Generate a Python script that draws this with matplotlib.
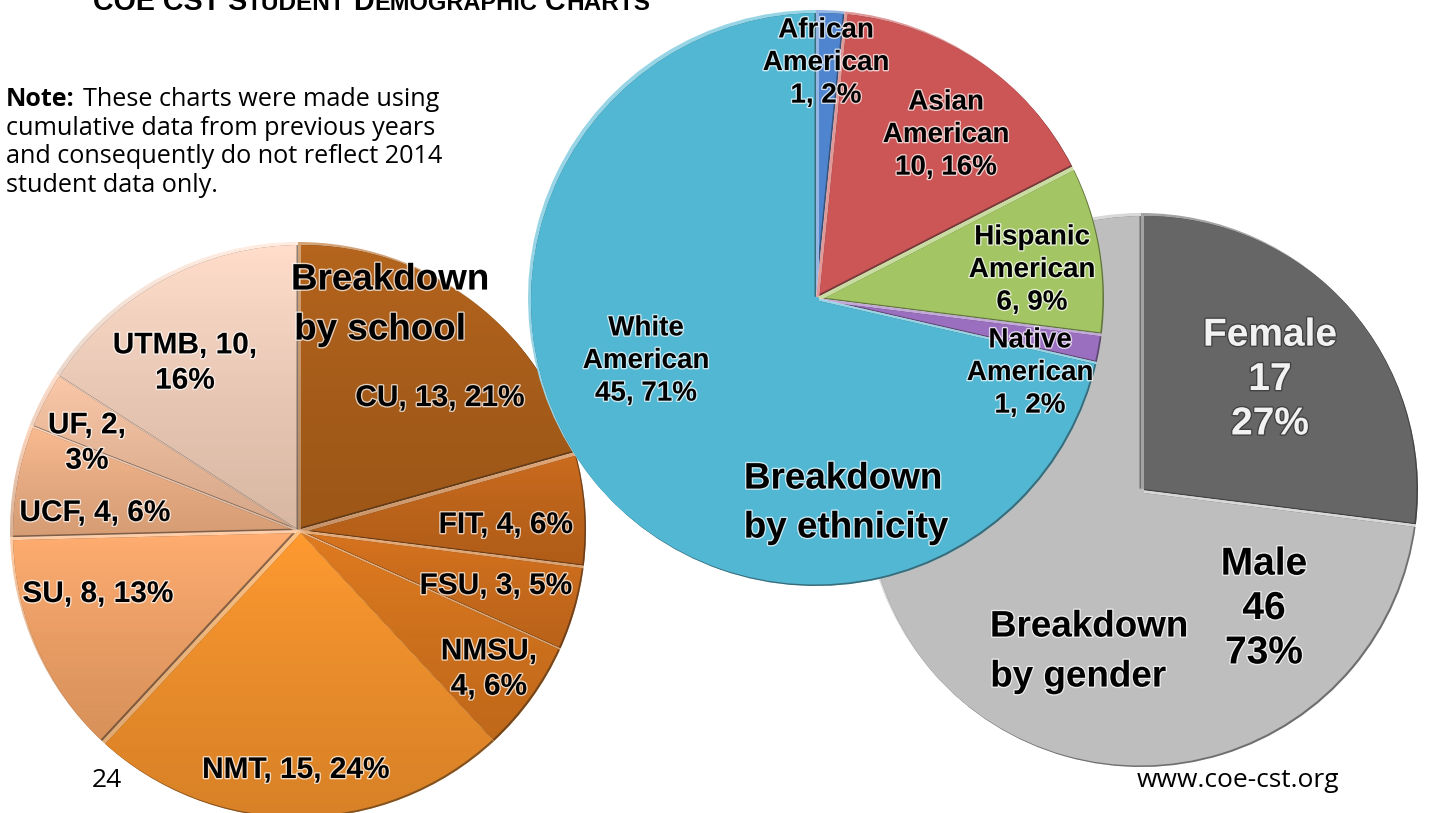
import matplotlib
matplotlib.use("Agg")
import matplotlib.pyplot as plt
import matplotlib.patheffects as pe
import matplotlib.colors as mc
from matplotlib.patches import Wedge
import numpy as np

school_labels = ["CU", "FIT", "FSU", "NMSU", "NMT", "SU", "UCF", "UF", "UTMB"]
school_values = [13, 4, 3, 4, 15, 8, 4, 2, 10]
school_colors = ["#B5651D", "#CC6C1E", "#D8741F", "#E07B20", "#FF9A30", "#FFAD70", "#FBBB90", "#FBC8A8", "#FFDDCA"]
eth_labels = ["African American", "Asian American", "Hispanic American", "Native American", "White American"]
eth_values = [1, 10, 6, 1, 45]
eth_colors = ["#4F84CE", "#CC5555", "#A3C563", "#9A6FBF", "#52B7D3"]
gender_labels = ["Female", "Male"]
gender_values = [17, 46]
gender_colors = ["#666666", "#BEBEBE"]

W, H = 1429, 813
fig = plt.figure(figsize=(W / 100, H / 100), dpi=100)
plt.rcParams['font.family'] = ['Liberation Sans', 'DejaVu Sans']

def pie_axes(cx, cy, r, z):
    ax = fig.add_axes([(cx - r) / W, 1 - (cy + r) / H, 2 * r / W, 2 * r / H])
    ax.set_zorder(z)
    ax.r_px = r
    return ax

def mix(c, other, t):
    a, b = np.array(mc.to_rgb(c)), np.array(mc.to_rgb(other))
    return tuple(a + (b - a) * t)

def draw(ax, values, colors, band=3.0, fade=0.0):
    wedges, _ = ax.pie(values, colors=colors, startangle=90, counterclock=False, radius=1.0)
    ax.set_xlim(-1, 1)
    ax.set_ylim(-1, 1)
    d = band / ax.r_px
    shade = mc.LinearSegmentedColormap.from_list("s", [(0, 0, 0, 0), (0.25, 0.12, 0, fade)])
    for i, (w, col) in enumerate(zip(wedges, colors)):
        z = 2 + i * 0.1
        def copy(dx, dy, **kw):
            c = Wedge((dx, dy), 1.0, w.theta1, w.theta2, edgecolor="none", **kw)
            ax.add_patch(c)
            return c
        w.set_facecolor(mix(col, "white", 0.4))
        w.set_zorder(z)
        dark = copy(d, -d, facecolor=mix(col, "#202020", 0.5), zorder=z + 0.01)
        dark.set_clip_path(w)
        body = copy(-d * 0.5, d * 0.5, facecolor=col, zorder=z + 0.02)
        body.set_clip_path(dark)
        if fade > 0:
            v = w.get_path().transformed(w.get_patch_transform()).vertices
            x0, x1, y0, y1 = v[:, 0].min(), v[:, 0].max(), v[:, 1].min(), v[:, 1].max()
            im = ax.imshow(np.linspace(0, 1, 64)[:, None], cmap=shade, extent=(x0, x1, y0, y1),
                           aspect="auto", zorder=z + 0.03, vmin=0, vmax=1)
            im.set_clip_path(w)
    ax.set_xlim(-1, 1)
    ax.set_ylim(-1, 1)
    ax.set_aspect("equal")
    ax.axis("off")

def label(x, y, s, size=20, color="black", ls=1.33):
    t = fig.text(x / W, 1 - (y + 4) / H, s, fontsize=size, fontweight="bold", ha="center", va="center",
                 color=color, linespacing=ls, zorder=20)
    glow = "white" if color == "black" else "#333333"
    t.set_path_effects([pe.withStroke(linewidth=2, foreground=glow, alpha=0.7)])

draw(pie_axes(1141, 490, 277, 1), gender_values, gender_colors)
draw(pie_axes(298, 530, 288, 2), school_values, school_colors, fade=0.2)
draw(pie_axes(816, 298, 288, 3), eth_values, eth_colors)

label(390, 276, "Breakdown", 26.5)
label(380, 326, "by school", 26.5)
label(440, 394, "CU, 13, 21%", 21.5)
label(506, 521, "FIT, 4, 6%", 21.5)
label(496, 582, "FSU, 3, 5%", 21.5)
label(489, 665, "NMSU,\n4, 6%", 21.5)
label(296, 766, "NMT, 15, 24%", 21.5)
label(98, 590, "SU, 8, 13%", 21.5)
label(95, 509, "UCF, 4, 6%", 21.5)
label(87, 439, "UF, 2,\n3%", 21.5)
label(185, 359, "UTMB, 10,\n16%", 21.5)

label(826, 59, "African\nAmerican\n1, 2%")
label(946, 131, "Asian\nAmerican\n10, 16%")
label(1032, 266, "Hispanic\nAmerican\n6, 9%")
label(1030, 369, "Native\nAmerican\n1, 2%")
label(646, 357, "White\nAmerican\n45, 71%")
label(843, 475, "Breakdown", 26.5)
label(846, 524, "by ethnicity", 26.5)

label(1270, 376, "Female\n17\n27%", 28, color="#F2F2F2", ls=1.3)
label(1264, 605, "Male\n46\n73%", 28, ls=1.3)
label(1089, 623, "Breakdown", 26.5)
label(1078, 673, "by gender", 26.5)

title_parts = [(93, "COE CST S", 20.6), (247, "TUDENT", 17.6), (353, "D", 20.6), (374, "EMOGRAPHIC", 17), (545, "C", 20.6), (566, "HARTS", 17.6)]
for x, s, fs in title_parts:
    fig.text(x / W, 1 - 10 / H, s, fontsize=fs, fontweight="bold", va="baseline")

note_font = ["Open Sans", "DejaVu Sans"]
fig.text(6 / W, 1 - 106 / H, "Note:", fontsize=18, fontweight="bold", family=note_font, va="baseline")
fig.text(83 / W, 1 - 106 / H, "These charts were made using", fontsize=18.2, family=note_font, va="baseline")
for y, s in [(135, "cumulative data from previous years"), (163, "and consequently do not reflect 2014"), (192, "student data only.")]:
    fig.text(6 / W, 1 - y / H, s, fontsize=18.2, family=note_font, va="baseline")
fig.text(92 / W, 1 - 787 / H, "24", fontsize=19, family=note_font, va="baseline", zorder=25)
fig.text(1137 / W, 1 - 787 / H, "www.coe-cst.org", fontsize=19, family=note_font, va="baseline", zorder=25)

fig.savefig("out.png", dpi=100)
